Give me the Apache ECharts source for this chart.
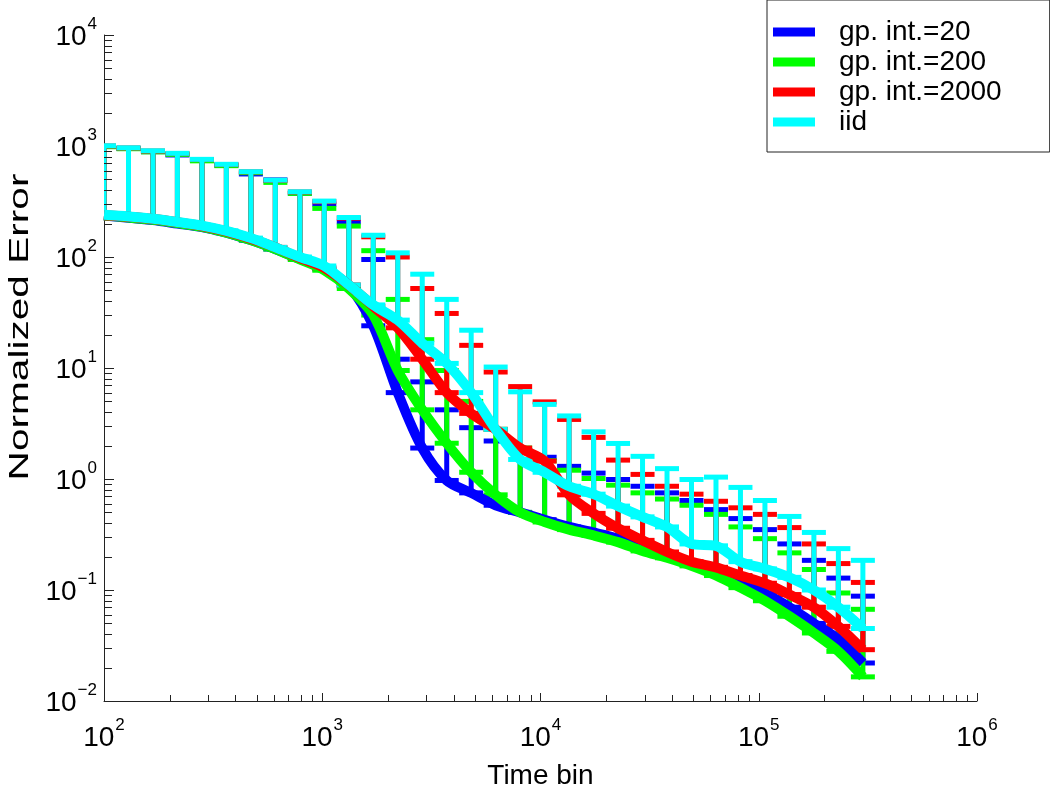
<!DOCTYPE html>
<html>
<head>
<meta charset="utf-8">
<script src="https://cdn.jsdelivr.net/npm/echarts@6/dist/echarts.min.js"></script>
<style>
  html, body { margin: 0; padding: 0; background: #fff; }
  #chart { width: 1050px; height: 789px; }
</style>
</head>
<body>
<div id="chart"></div>
<script>
// x positions of the error bars (time bins)
const barX = [100, 129.5, 167.6, 217, 281, 363.8, 471, 609.8, 789.5, 1022, 1323, 1713,
  2218, 2872, 3718, 4813, 6232, 8068, 10445, 13523, 17508, 22667, 29346, 37994,
  49190, 63685, 82451, 106747, 138204, 178930, 231656, 300000];

// mean normalized error per series
const gp20Mean = [236, 226, 215, 200, 186, 166, 142, 118, 96, 78, 55, 24, 6.0, 1.9, 0.97, 0.75,
  0.58, 0.5, 0.43, 0.37, 0.33, 0.29, 0.24, 0.205, 0.175, 0.15, 0.12, 0.093, 0.07, 0.05, 0.036, 0.022];
const gp200Mean = [236, 227, 216, 202, 187, 166, 142, 118, 95, 76, 52, 30, 9.5, 4.2, 2.1, 1.15,
  0.72, 0.5, 0.41, 0.35, 0.31, 0.27, 0.225, 0.195, 0.165, 0.135, 0.105, 0.08, 0.058, 0.041, 0.028, 0.0165];
const gp2000Mean = [238, 230, 220, 206, 190, 170, 146, 122, 98, 80, 56, 36, 23, 12, 6.0, 3.9,
  2.8, 1.9, 1.45, 0.72, 0.49, 0.36, 0.28, 0.22, 0.18, 0.16, 0.135, 0.115, 0.091, 0.07, 0.047, 0.029];
const iidMean = [240, 232, 221, 207, 192, 172, 148, 122, 100, 83, 56, 37, 27, 16.7, 11, 6,
  2.8, 1.5, 1.15, 0.86, 0.73, 0.57, 0.456, 0.37, 0.26, 0.25, 0.18, 0.155, 0.13, 0.1, 0.07, 0.045];

// upper end of the error bars
const gp20Upper = [990, 950, 890, 830, 745, 670, 560, 495, 375, 300, 207, 95, 12, 7.5, 4.2, 2.9,
  2.2, 1.8, 1.57, 1.3, 1.13, 0.99, 0.86, 0.75, 0.64, 0.53, 0.44, 0.35, 0.26, 0.185, 0.128, 0.088];
const gp200Upper = [985, 945, 885, 840, 735, 665, 575, 470, 374, 274, 190, 114, 41.5, 18, 9.5, 5,
  2.8, 1.9, 1.46, 1.2, 1.01, 0.88, 0.75, 0.66, 0.58, 0.48, 0.37, 0.29, 0.216, 0.153, 0.094, 0.067];
const gp2000Upper = [1000, 960, 900, 855, 755, 680, 585, 490, 385, 315, 224, 152, 100, 52, 31, 16,
  9.2, 6.8, 4.95, 3.44, 2.37, 1.48, 1.1, 0.86, 0.73, 0.63, 0.55, 0.48, 0.365, 0.26, 0.173, 0.117];
const iidUpper = [1005, 964, 906, 859, 758, 684, 587, 493, 387, 319, 227, 157, 109, 70, 41.5, 21.9,
  10.2, 6.1, 4.7, 3.7, 2.66, 2.09, 1.6, 1.24, 0.99, 1.04, 0.84, 0.64, 0.46, 0.33, 0.236, 0.185];

// minor tick positions (log axes)
const xMinorTicks = [200, 300, 400, 500, 600, 700, 800, 900,
  2000, 3000, 4000, 5000, 6000, 7000, 8000, 9000,
  20000, 30000, 40000, 50000, 60000, 70000, 80000, 90000,
  200000, 300000, 400000, 500000, 600000, 700000, 800000, 900000];
const yMinorTicks = [0.02, 0.03, 0.04, 0.05, 0.06, 0.07, 0.08, 0.09,
  0.2, 0.3, 0.4, 0.5, 0.6, 0.7, 0.8, 0.9,
  2, 3, 4, 5, 6, 7, 8, 9,
  20, 30, 40, 50, 60, 70, 80, 90,
  200, 300, 400, 500, 600, 700, 800, 900,
  2000, 3000, 4000, 5000, 6000, 7000, 8000, 9000];

const seriesNames = ['gp. int.=20', 'gp. int.=200', 'gp. int.=2000', 'iid'];
const seriesColors = ['#0000ff', '#00ff00', '#ff0000', '#00ffff'];

const FONT = 'Liberation Sans, Arial, Helvetica, sans-serif';
const AXIS_COLOR = '#222';
const X_MIN = 100, Y_MIN = 0.01;

const chart = echarts.init(document.getElementById('chart'), null, { renderer: 'canvas' });

function powLabel(value) {
  const e = Math.round(Math.log10(value));
  const exp = e < 0 ? '\u2212' + Math.abs(e) : String(e);
  return '{b|10}{s|' + exp + '}';
}

// "10" with a raised exponent: the bottom padding lifts the exponent
const labelRich = {
  b: { fontSize: 28, fontFamily: FONT, color: '#000', lineHeight: 30 },
  s: { fontSize: 17, fontFamily: FONT, color: '#000', lineHeight: 18, padding: [0, 0, 26, 1] }
};

function errorBarItem(params, api) {
  const x = api.value(0);
  const low = api.coord([x, api.value(1)]);
  const high = api.coord([x, api.value(2)]);
  const halfCap = 12;
  const color = api.visual('color');
  const style = { stroke: color, lineWidth: 5, fill: null };
  return {
    type: 'group',
    children: [
      { type: 'line', shape: { x1: low[0], y1: low[1], x2: high[0], y2: high[1] }, style: style },
      { type: 'line', shape: { x1: high[0] - halfCap, y1: high[1], x2: high[0] + halfCap, y2: high[1] }, style: style },
      { type: 'line', shape: { x1: low[0] - halfCap, y1: low[1], x2: low[0] + halfCap, y2: low[1] }, style: style }
    ]
  };
}

const means = [gp20Mean, gp200Mean, gp2000Mean, iidMean];
const uppers = [gp20Upper, gp200Upper, gp2000Upper, iidUpper];

const series = [];
seriesNames.forEach((name, i) => {
  series.push({
    name: name,
    type: 'line',
    data: barX.map((x, k) => [x, means[i][k]]),
    showSymbol: false,
    symbol: 'none',
    smooth: 0.3,
    color: seriesColors[i],
    lineStyle: { color: seriesColors[i], width: 10 },
    itemStyle: { color: seriesColors[i] },
    clip: true,
    silent: true
  });
  series.push({
    name: name + ' bars',
    type: 'custom',
    data: barX.map((x, k) => [x, means[i][k], uppers[i][k]]),
    encode: { x: 0, y: [1, 2] },
    itemStyle: { color: seriesColors[i] },
    renderItem: errorBarItem,
    clip: true,
    silent: true
  });
});

// minor ticks, pointing into the plot area
series.push({
  type: 'custom',
  name: 'x minor',
  data: xMinorTicks.map(v => [v, Y_MIN]),
  silent: true,
  renderItem: (params, api) => {
    const p = api.coord([api.value(0), Y_MIN]);
    const px = Math.round(p[0]) + 0.5;
    return { type: 'line', shape: { x1: px, y1: p[1], x2: px, y2: p[1] - 6 }, style: { stroke: AXIS_COLOR, lineWidth: 1 } };
  }
});
series.push({
  type: 'custom',
  name: 'y minor',
  data: yMinorTicks.map(v => [X_MIN, v]),
  silent: true,
  renderItem: (params, api) => {
    const p = api.coord([X_MIN, api.value(1)]);
    const py = Math.round(p[1]) + 0.5;
    return { type: 'line', shape: { x1: p[0], y1: py, x2: p[0] + 8, y2: py }, style: { stroke: AXIS_COLOR, lineWidth: 1 } };
  }
});

const option = {
  backgroundColor: '#fff',
  animation: false,
  grid: { left: 104, right: 73, top: 35, bottom: 88, containLabel: false, outerBoundsMode: 'none' },
  legend: {
    data: seriesNames.map(n => ({ name: n, icon: 'rect' })),
    orient: 'vertical',
    left: 767,
    top: 0,
    itemWidth: 42,
    itemHeight: 9,
    itemGap: 0,
    padding: [17, 48, 15, 6],
    borderColor: AXIS_COLOR,
    borderWidth: 1,
    backgroundColor: '#fff',
    selectedMode: false,
    textStyle: { fontSize: 28, fontFamily: FONT, color: '#000', lineHeight: 30, padding: [0, 0, 0, 19] }
  },
  xAxis: {
    type: 'log',
    logBase: 10,
    min: 100,
    max: 1000000,
    name: 'Time bin',
    nameLocation: 'middle',
    nameGap: 61,
    nameMoveOverlap: false,
    nameTextStyle: { fontSize: 28, fontFamily: FONT, color: '#000' },
    axisLine: { show: true, lineStyle: { color: AXIS_COLOR, width: 1 } },
    axisTick: { show: true, inside: true, length: 8, lineStyle: { color: AXIS_COLOR } },
    axisLabel: { margin: 22, formatter: powLabel, rich: labelRich },
    splitLine: { show: false }
  },
  yAxis: {
    type: 'log',
    logBase: 10,
    min: 0.01,
    max: 10000,
    axisLine: { show: true, lineStyle: { color: AXIS_COLOR, width: 1 } },
    axisTick: { show: true, inside: true, length: 10, lineStyle: { color: AXIS_COLOR } },
    axisLabel: { margin: 7, padding: [5, 0, 0, 0], formatter: powLabel, rich: labelRich },
    splitLine: { show: false }
  },
  graphic: [{
    type: 'text',
    x: 20,
    y: 327,
    rotation: Math.PI / 2,
    scaleX: 1.45,
    silent: true,
    style: {
      text: 'Normalized Error',
      fontSize: 28,
      fontFamily: FONT,
      fill: '#000',
      align: 'center',
      verticalAlign: 'middle'
    }
  }],
  series: series
};

chart.setOption(option);
</script>
</body>
</html>
